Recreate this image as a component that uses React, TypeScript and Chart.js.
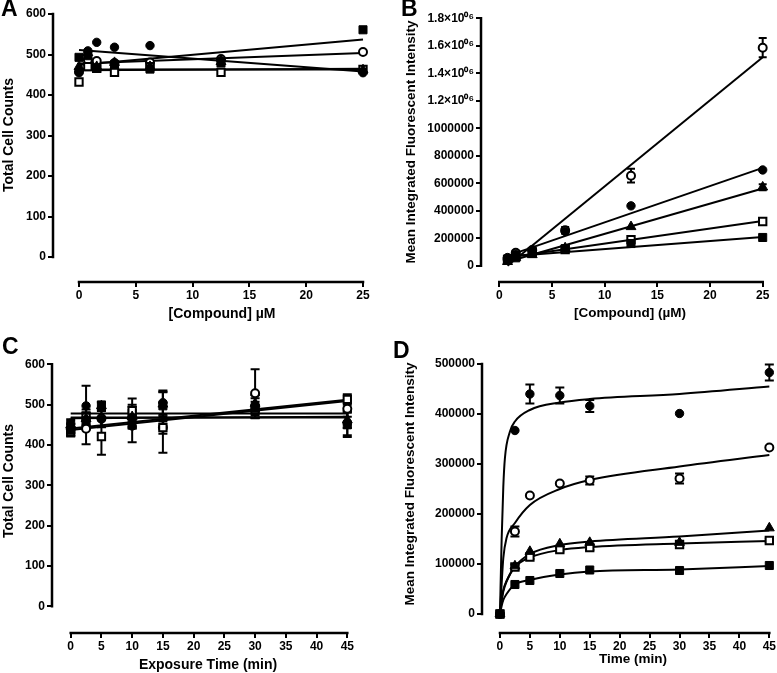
import React, { useEffect, useRef } from 'react';
import { Chart, registerables } from 'chart.js';

Chart.register(...registerables);

const FONT = '"Liberation Sans", Arial, Helvetica, sans-serif';

// ---------------- Panel A: Total cell counts vs [Compound] ----------------
const A_X = [0, 0.78, 1.56, 3.125, 6.25, 12.5, 25];
const A_FILLED_CIRCLE = [455, 509, 530, 518, 522, 485, 455];
const A_OPEN_CIRCLE = [458, 487, 484, 479, 480, 489, 506];
const A_FILLED_SQUARE = [493, 497, 466, 475, 464, 479, 561];
const A_OPEN_SQUARE = [432, 470, 466, 456, 470, 456, 463];
const A_TRIANGLE = [470, 504, 470, 480, 470, 482, 462];
const A_FIT_X = [0, 25];
const A_FIT_FILLED_CIRCLE = [511, 458];
const A_FIT_FILLED_SQUARE = [474, 537];
const A_FIT_OPEN_CIRCLE = [478, 504];
const A_FIT_OPEN_SQUARE = [463, 463];
const A_FIT_TRIANGLE = [461, 465];
const A_X_TICKS = [0, 5, 10, 15, 20, 25];
const A_Y_TICKS = [0, 100, 200, 300, 400, 500, 600];

// ---------------- Panel B: MIFI vs [Compound] ----------------
const B_X = [0.78, 1.56, 3.125, 6.25, 12.5, 25];
const B_OPEN_CIRCLE = [50000, 95000, 115000, 258000, 655000, 1586000];
const B_OPEN_CIRCLE_ERR = [10000, 15000, 15000, 25000, 50000, 70000];
const B_FILLED_CIRCLE = [60000, 85000, 110000, 250000, 436000, 697000];
const B_TRIANGLE = [30000, 60000, 80000, 130000, 284000, 572000];
const B_TRIANGLE_ERR = [10000, 10000, 15000, 10000, 0, 22000];
const B_OPEN_SQUARE = [40000, 72000, 100000, 118000, 190000, 322000];
const B_OPEN_SQUARE_ERR = [5000, 12000, 10000, 10000, 12000, 10000];
const B_FILLED_SQUARE = [50000, 58000, 100000, 125000, 162000, 206000];
const B_FIT_X = [0.78, 25];
const B_FIT_OPEN_CIRCLE = [0, 1516000];
const B_FIT_FILLED_CIRCLE = [72000, 712000];
const B_FIT_TRIANGLE = [29000, 562000];
const B_FIT_OPEN_SQUARE = [60000, 325000];
const B_FIT_FILLED_SQUARE = [68000, 210000];
const B_X_TICKS = [0, 5, 10, 15, 20, 25];
const B_Y_TICKS = [0, 200000, 400000, 600000, 800000, 1000000, 1200000, 1400000, 1600000, 1800000];
const B_Y_TICK_LABELS = ['0', '200000', '400000', '600000', '800000', '1000000', '1.2×10⁰⁶', '1.4×10⁰⁶', '1.6×10⁰⁶', '1.8×10⁰⁶'];

// ---------------- Panel C: Total cell counts vs exposure time ----------------
const C_X = [0, 2.5, 5, 10, 15, 30, 45];
const C_FILLED_CIRCLE = [454, 497, 464, 447, 505, 499, 454];
const C_FILLED_CIRCLE_ERR = [10, 50, 20, 40, 30, 25, 30];
const C_OPEN_CIRCLE = [440, 440, 466, 470, 443, 528, 490];
const C_OPEN_CIRCLE_ERR = [10, 38, 20, 30, 62, 60, 20];
const C_FILLED_SQUARE = [437, 461, 499, 462, 497, 491, 450];
const C_FILLED_SQUARE_ERR = [15, 20, 8, 20, 35, 25, 30];
const C_OPEN_SQUARE = [433, 468, 421, 485, 443, 487, 513];
const C_OPEN_SQUARE_ERR = [12, 20, 45, 30, 15, 20, 13];
const C_TRIANGLE = [450, 465, 497, 470, 501, 503, 462];
const C_TRIANGLE_ERR = [10, 15, 8, 25, 30, 20, 20];
const C_FIT_X = [0, 45];
const C_FIT_1 = [478, 478];
const C_FIT_2 = [468, 468];
const C_FIT_3 = [466, 470];
const C_FIT_4 = [437, 509];
const C_FIT_5 = [441, 512];
const C_X_TICKS = [0, 5, 10, 15, 20, 25, 30, 35, 40, 45];
const C_Y_TICKS = [0, 100, 200, 300, 400, 500, 600];

// ---------------- Panel D: MIFI vs time ----------------
const D_X = [0, 2.5, 5, 10, 15, 30, 45];
const D_FILLED_CIRCLE = [0, 367000, 440000, 437000, 416000, 401000, 483000];
const D_FILLED_CIRCLE_ERR = [0, 0, 19000, 16000, 12000, 0, 16000];
const D_OPEN_CIRCLE = [0, 165000, 237000, 261000, 267000, 271000, 333000];
const D_OPEN_CIRCLE_ERR = [0, 10000, 0, 0, 8000, 10000, 0];
const D_TRIANGLE = [0, 96000, 125000, 140000, 143000, 143000, 172000];
const D_OPEN_SQUARE = [0, 94000, 114000, 129000, 133000, 139000, 147000];
const D_OPEN_SQUARE_ERR = [0, 5000, 4000, 4000, 5000, 5000, 4000];
const D_FILLED_SQUARE = [0, 59000, 67000, 81000, 88000, 87000, 97000];
const D_CURVE_FILLED_CIRCLE_X = [0, 0.28, 0.56, 0.83, 1.67, 2.5, 5, 10, 15, 30, 45];
const D_CURVE_FILLED_CIRCLE = [0, 148000, 255000, 312000, 365000, 385000, 408000, 423000, 430000, 440000, 455000];
const D_CURVE_OPEN_CIRCLE_X = [0, 0.28, 0.56, 1.1, 2.5, 5, 10, 15, 30, 45];
const D_CURVE_OPEN_CIRCLE = [0, 60000, 112000, 152000, 182000, 218000, 250000, 268000, 295000, 318000];
const D_CURVE_TRIANGLE_X = [0, 0.28, 0.56, 1.1, 2.5, 5, 10, 15, 30, 45];
const D_CURVE_TRIANGLE = [0, 28000, 48000, 66000, 95000, 120000, 138000, 145000, 155000, 167000];
const D_CURVE_OPEN_SQUARE = [0, 26000, 45000, 65000, 94000, 113000, 128000, 134000, 141000, 146000];
const D_CURVE_FILLED_SQUARE = [0, 16000, 28000, 40000, 59000, 68000, 79000, 85000, 89000, 96000];
const D_X_TICKS = [0, 5, 10, 15, 20, 25, 30, 35, 40, 45];
const D_Y_TICKS = [0, 100000, 200000, 300000, 400000, 500000];

// ---------------- marker styles ----------------
type Marker = { shape: string; r: number; fill: string; bw: number };
const FILLED_CIRCLE: Marker = { shape: 'circle', r: 4.2, fill: '#000', bw: 1 };
const OPEN_CIRCLE: Marker = { shape: 'circle', r: 4, fill: '#fff', bw: 2 };
const FILLED_SQUARE: Marker = { shape: 'rect', r: 5.7, fill: '#000', bw: 1 };
const OPEN_SQUARE: Marker = { shape: 'rect', r: 5.2, fill: '#fff', bw: 2 };
const TRIANGLE: Marker = { shape: 'triangle', r: 5.7, fill: '#000', bw: 1 };

type Series = { xs: number[]; ys: number[]; errs?: number[]; m: Marker };
type Fit = { xs: number[]; ys: number[]; smooth?: boolean };

interface PanelProps {
  left: number; top: number; width: number; height: number;
  yAxisX: number; xAxisY: number; chartTop: number; chartRight: number;
  xMap: number[]; yMap: number[];
  xTicks: number[]; yTicks: number[]; yTickLabels?: string[];
  series: Series[]; fits: Fit[]; cap: number;
}

const pts = (xs: number[], ys: number[]) => xs.map((x, i) => ({ x, y: ys[i] }));

function Panel(p: PanelProps) {
  const ref = useRef<HTMLCanvasElement>(null);
  useEffect(() => {
    const cv = ref.current;
    if (!cv) return;
    const W = p.yAxisX - p.left;
    const H = p.height - (p.xAxisY - p.top);
    const padTop = p.chartTop - p.top;
    const padRight = p.left + p.width - p.chartRight;
    const [xv0, xp0, xv1, xp1] = p.xMap;
    const kx = (xp1 - xp0) / (xv1 - xv0);
    const xMin = xv0 - (xp0 - p.yAxisX) / kx;
    const xMax = xv0 + (p.chartRight - xp0) / kx;
    const [yv0, yp0, yv1, yp1] = p.yMap;
    const ky = (yp0 - yp1) / (yv1 - yv0);
    const yMin = yv0 - (p.xAxisY - yp0) / ky;
    const yMax = yv0 + (yp0 - p.chartTop) / ky;

    const datasets: any[] = [];
    p.fits.forEach((f) =>
      datasets.push({
        type: 'line',
        data: pts(f.xs, f.ys),
        borderColor: '#000',
        borderWidth: 2,
        pointRadius: 0,
        fill: false,
        tension: 0,
        cubicInterpolationMode: f.smooth ? 'monotone' : 'default',
        order: 2,
        clip: false,
      })
    );
    p.series.forEach((s) =>
      datasets.push({
        type: 'scatter',
        data: pts(s.xs, s.ys),
        showLine: false,
        pointStyle: s.m.shape,
        pointRadius: s.m.r,
        pointBackgroundColor: s.m.fill,
        pointBorderColor: '#000',
        pointBorderWidth: s.m.bw,
        order: 1,
        clip: false,
        errors: s.errs,
      })
    );

    const errorBars = {
      id: 'errorBars',
      beforeDatasetsDraw(chart: any) {
        const ctx = chart.ctx;
        const sx = chart.scales.x;
        const sy = chart.scales.y;
        ctx.save();
        ctx.strokeStyle = '#000';
        ctx.lineWidth = 2;
        chart.data.datasets.forEach((ds: any) => {
          if (!ds.errors) return;
          ds.data.forEach((pt: any, i: number) => {
            const e = ds.errors[i];
            if (!e) return;
            const px = sx.getPixelForValue(pt.x);
            const t = sy.getPixelForValue(pt.y + e);
            const b = sy.getPixelForValue(pt.y - e);
            ctx.beginPath();
            ctx.moveTo(px, t);
            ctx.lineTo(px, b);
            ctx.moveTo(px - p.cap, t);
            ctx.lineTo(px + p.cap, t);
            ctx.moveTo(px - p.cap, b);
            ctx.lineTo(px + p.cap, b);
            ctx.stroke();
          });
        });
        ctx.restore();
      },
    };

    const axes = {
      id: 'prismAxes',
      afterDraw(chart: any) {
        const ctx = chart.ctx;
        const sx = chart.scales.x;
        const sy = chart.scales.y;
        const a = chart.chartArea;
        ctx.save();
        ctx.strokeStyle = '#000';
        ctx.lineWidth = 2.5;
        ctx.lineCap = 'square';
        ctx.beginPath();
        ctx.moveTo(a.left - 1, sy.getPixelForValue(p.yTicks[0]));
        ctx.lineTo(a.left - 1, sy.getPixelForValue(p.yTicks[p.yTicks.length - 1]));
        ctx.moveTo(sx.getPixelForValue(p.xTicks[0]), a.bottom + 1);
        ctx.lineTo(sx.getPixelForValue(p.xTicks[p.xTicks.length - 1]), a.bottom + 1);
        ctx.stroke();
        ctx.restore();
      },
    };

    const tickFont = { family: FONT, size: 12, weight: 'bold' as const };
    const grid = {
      display: true,
      drawOnChartArea: false,
      drawTicks: true,
      tickLength: 6,
      lineWidth: 2,
      color: '#000',
    };

    const chart = new Chart(cv, {
      type: 'scatter',
      data: { datasets },
      plugins: [errorBars, axes],
      options: {
        responsive: false,
        animation: false,
        devicePixelRatio: 1,
        events: [],
        layout: { padding: { left: 0, top: padTop, right: padRight, bottom: 0 } },
        plugins: { legend: { display: false }, tooltip: { enabled: false }, title: { display: false } },
        scales: {
          x: {
            type: 'linear',
            position: 'bottom',
            min: xMin,
            max: xMax,
            bounds: 'data',
            grid,
            border: { display: false },
            afterBuildTicks: (s: any) => {
              s.ticks = p.xTicks.map((v) => ({ value: v }));
            },
            afterFit: (s: any) => {
              s.height = H;
            },
            ticks: {
              autoSkip: false,
              maxRotation: 0,
              padding: 1,
              color: '#000',
              font: tickFont,
              callback: (v: any, i: number) => String(p.xTicks[i]),
            },
          },
          y: {
            type: 'linear',
            position: 'left',
            min: yMin,
            max: yMax,
            bounds: 'data',
            grid,
            border: { display: false },
            afterBuildTicks: (s: any) => {
              s.ticks = p.yTicks.map((v) => ({ value: v }));
            },
            afterFit: (s: any) => {
              s.width = W;
            },
            ticks: {
              autoSkip: false,
              padding: 2,
              color: '#000',
              font: tickFont,
              callback: (v: any, i: number) => (p.yTickLabels ? p.yTickLabels[i] : String(p.yTicks[i])),
            },
          },
        },
      } as any,
    });
    return () => chart.destroy();
  }, []);
  return (
    <canvas
      ref={ref}
      width={p.width}
      height={p.height}
      style={{ position: 'absolute', left: p.left, top: p.top, width: p.width, height: p.height }}
    />
  );
}

function Label(props: { text: string; x: number; y: number; size: number; rotate?: boolean; weight?: string }) {
  return (
    <div
      style={{
        position: 'absolute',
        left: props.x,
        top: props.y,
        transform: `translate(-50%, -50%)${props.rotate ? ' rotate(-90deg)' : ''}`,
        fontFamily: FONT,
        fontWeight: (props.weight || 'bold') as any,
        fontSize: props.size,
        lineHeight: 1,
        whiteSpace: 'nowrap',
        color: '#000',
      }}
    >
      {props.text}
    </div>
  );
}

function Letter(props: { text: string; x: number; y: number }) {
  return (
    <div
      style={{
        position: 'absolute',
        left: props.x,
        top: props.y,
        fontFamily: FONT,
        fontWeight: 'bold',
        fontSize: 23,
        lineHeight: 1,
        color: '#000',
      }}
    >
      {props.text}
    </div>
  );
}

export default function App() {
  return (
    <div style={{ position: 'absolute', left: 0, top: 0, width: 777, height: 673, background: '#fff', overflow: 'hidden' }}>
      <Panel
        left={0} top={0} width={388} height={330}
        yAxisX={54} xAxisY={281} chartTop={14} chartRight={370}
        xMap={[0, 79, 25, 363]} yMap={[0, 257, 600, 14]}
        xTicks={A_X_TICKS} yTicks={A_Y_TICKS} cap={4}
        fits={[
          { xs: A_FIT_X, ys: A_FIT_FILLED_CIRCLE },
          { xs: A_FIT_X, ys: A_FIT_FILLED_SQUARE },
          { xs: A_FIT_X, ys: A_FIT_OPEN_CIRCLE },
          { xs: A_FIT_X, ys: A_FIT_OPEN_SQUARE },
          { xs: A_FIT_X, ys: A_FIT_TRIANGLE },
        ]}
        series={[
          { xs: A_X, ys: A_FILLED_CIRCLE, m: FILLED_CIRCLE },
          { xs: A_X, ys: A_FILLED_SQUARE, m: FILLED_SQUARE },
          { xs: A_X, ys: A_TRIANGLE, m: TRIANGLE },
          { xs: A_X, ys: A_OPEN_SQUARE, m: OPEN_SQUARE },
          { xs: A_X, ys: A_OPEN_CIRCLE, m: OPEN_CIRCLE },
        ]}
      />
      <Panel
        left={388} top={0} width={389} height={330}
        yAxisX={482} xAxisY={281} chartTop={18} chartRight={768}
        xMap={[0, 499.3, 25, 762.7]} yMap={[0, 265.8, 1800000, 18.3]}
        xTicks={B_X_TICKS} yTicks={B_Y_TICKS} yTickLabels={B_Y_TICK_LABELS} cap={4}
        fits={[
          { xs: B_FIT_X, ys: B_FIT_OPEN_CIRCLE },
          { xs: B_FIT_X, ys: B_FIT_FILLED_CIRCLE },
          { xs: B_FIT_X, ys: B_FIT_TRIANGLE },
          { xs: B_FIT_X, ys: B_FIT_OPEN_SQUARE },
          { xs: B_FIT_X, ys: B_FIT_FILLED_SQUARE },
        ]}
        series={[
          { xs: B_X, ys: B_FILLED_CIRCLE, m: FILLED_CIRCLE },
          { xs: B_X, ys: B_FILLED_SQUARE, m: FILLED_SQUARE },
          { xs: B_X, ys: B_TRIANGLE, errs: B_TRIANGLE_ERR, m: TRIANGLE },
          { xs: B_X, ys: B_OPEN_SQUARE, errs: B_OPEN_SQUARE_ERR, m: OPEN_SQUARE },
          { xs: B_X, ys: B_OPEN_CIRCLE, errs: B_OPEN_CIRCLE_ERR, m: OPEN_CIRCLE },
        ]}
      />
      <Panel
        left={0} top={330} width={388} height={343}
        yAxisX={53} xAxisY={632} chartTop={364} chartRight={353}
        xMap={[0, 70.7, 45, 347.3]} yMap={[0, 606.3, 600, 364.3]}
        xTicks={C_X_TICKS} yTicks={C_Y_TICKS} cap={4.5}
        fits={[
          { xs: C_FIT_X, ys: C_FIT_1 },
          { xs: C_FIT_X, ys: C_FIT_2 },
          { xs: C_FIT_X, ys: C_FIT_3 },
          { xs: C_FIT_X, ys: C_FIT_4 },
          { xs: C_FIT_X, ys: C_FIT_5 },
        ]}
        series={[
          { xs: C_X, ys: C_FILLED_CIRCLE, errs: C_FILLED_CIRCLE_ERR, m: FILLED_CIRCLE },
          { xs: C_X, ys: C_FILLED_SQUARE, errs: C_FILLED_SQUARE_ERR, m: FILLED_SQUARE },
          { xs: C_X, ys: C_TRIANGLE, errs: C_TRIANGLE_ERR, m: TRIANGLE },
          { xs: C_X, ys: C_OPEN_SQUARE, errs: C_OPEN_SQUARE_ERR, m: OPEN_SQUARE },
          { xs: C_X, ys: C_OPEN_CIRCLE, errs: C_OPEN_CIRCLE_ERR, m: OPEN_CIRCLE },
        ]}
      />
      <Panel
        left={388} top={330} width={389} height={343}
        yAxisX={483} xAxisY={632} chartTop={364} chartRight={770}
        xMap={[0, 500, 45, 770]} yMap={[0, 614, 500000, 364]}
        xTicks={D_X_TICKS} yTicks={D_Y_TICKS} cap={4.5}
        fits={[
          { xs: D_CURVE_FILLED_CIRCLE_X, ys: D_CURVE_FILLED_CIRCLE, smooth: true },
          { xs: D_CURVE_OPEN_CIRCLE_X, ys: D_CURVE_OPEN_CIRCLE, smooth: true },
          { xs: D_CURVE_TRIANGLE_X, ys: D_CURVE_TRIANGLE, smooth: true },
          { xs: D_CURVE_TRIANGLE_X, ys: D_CURVE_OPEN_SQUARE, smooth: true },
          { xs: D_CURVE_TRIANGLE_X, ys: D_CURVE_FILLED_SQUARE, smooth: true },
        ]}
        series={[
          { xs: D_X, ys: D_FILLED_CIRCLE, errs: D_FILLED_CIRCLE_ERR, m: FILLED_CIRCLE },
          { xs: D_X, ys: D_TRIANGLE, m: TRIANGLE },
          { xs: D_X, ys: D_OPEN_SQUARE, errs: D_OPEN_SQUARE_ERR, m: OPEN_SQUARE },
          { xs: D_X, ys: D_OPEN_CIRCLE, errs: D_OPEN_CIRCLE_ERR, m: OPEN_CIRCLE },
          { xs: D_X, ys: D_FILLED_SQUARE, m: FILLED_SQUARE },
        ]}
      />
      <Letter text="A" x={1} y={-3} />
      <Letter text="B" x={401} y={-3} />
      <Letter text="C" x={2} y={335} />
      <Letter text="D" x={393} y={339} />
      <Label text="Total Cell Counts" x={8} y={135} size={14} rotate />
      <Label text="[Compound] µM" x={222} y={313} size={14} />
      <Label text="Mean Integrated Fluorescent Intensity" x={411} y={142} size={13.5} rotate />
      <Label text="[Compound] (µM)" x={630} y={313} size={13.5} />
      <Label text="Total Cell Counts" x={8} y={481} size={14} rotate />
      <Label text="Exposure Time (min)" x={208} y={664} size={14} />
      <Label text="Mean Integrated Fluorescent Intensity" x={410} y={484} size={13.5} rotate />
      <Label text="Time (min)" x={633} y={659} size={13.5} />
    </div>
  );
}
